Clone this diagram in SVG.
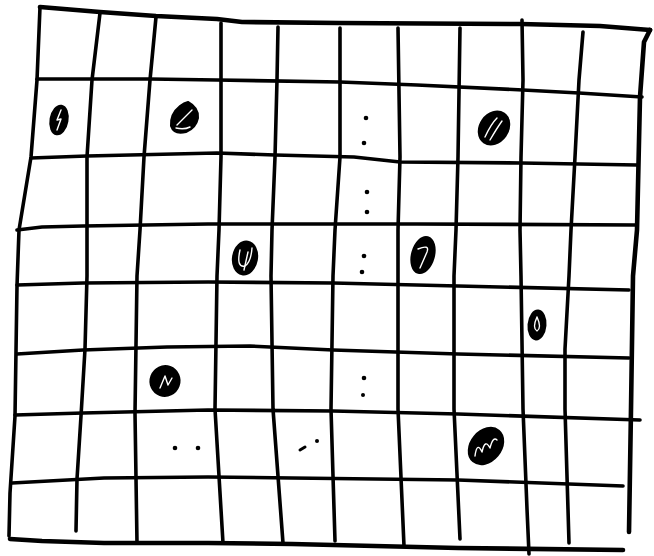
<svg xmlns="http://www.w3.org/2000/svg" width="654" height="556" viewBox="0 0 654 556">
<style>
.g{fill:none;stroke:#000;stroke-width:3.6;stroke-linecap:round;stroke-linejoin:round}
.b{fill:none;stroke:#000;stroke-width:4.6;stroke-linecap:round;stroke-linejoin:round}
.blob{fill:#000;stroke:#000;stroke-width:2}
.hl{fill:none;stroke:#fff;stroke-width:1.4;stroke-linecap:round;stroke-linejoin:round}
.d{fill:#000}
</style>
<rect width="654" height="556" fill="#fff"/>
<g id="grid">
<!-- borders -->
<path class="b" d="M40,7 L100,12 L156,16 L217,19 L242,22 L340,23 L521,24 L600,26 L650,30"/>
<path class="b" d="M650,30 L644,42 L640,97 L637,230 L633,276 L631,409 L629,532"/>
<path class="b" d="M10,539 L42,541 L104,543 L208,543 L292,544 L458,548 L623,550"/>
<path class="g" d="M40,7 L37,80 L31,157 L19,230 L17,286 L15,416 L10,493 L9,536"/>
<!-- horizontal lines -->
<path class="g" d="M37,79 L92,79 L150,79 L217,80 L340,82 L417,85 L523,90 L579,93 L642,97"/>
<path class="g" d="M31,158 L87,156 L217,153 L275,155 L354,157 L400,162 L521,163 L637,165"/>
<path class="g" d="M17,230 L42,227 L83,226 L208,224 L417,224 L637,225"/>
<path class="g" d="M17,285 L83,283 L208,282 L333,283 L458,286 L629,290"/>
<path class="g" d="M17,354 L83,350 L167,347 L250,346 L333,350 L458,354 L629,358"/>
<path class="g" d="M15,415 L83,413 L208,410 L333,411 L458,414 L640,420"/>
<path class="g" d="M12,483 L104,478 L208,477 L292,478 L458,480 L623,486"/>
<!-- vertical lines -->
<path class="g" d="M100,13 L92,80 L87,157 L87,230 L87,276 L85,349 L81,416 L77,479 L76,531"/>
<path class="g" d="M156,17 L150,80 L144,157 L140,230 L137,276 L135,413 L137,543"/>
<path class="g" d="M221,23 L221,157 L219,230 L217,276 L215,409 L223,543"/>
<path class="g" d="M278,27 L277,80 L275,157 L272,230 L271,276 L273,409 L283,543"/>
<path class="g" d="M340,28 L340,157 L335,230 L333,276 L331,409 L333,476 L335,541"/>
<path class="g" d="M398,28 L400,157 L398,230 L398,276 L398,409 L404,546"/>
<path class="g" d="M460,28 L458,157 L456,230 L454,276 L454,409 L460,539"/>
<path class="g" d="M522,20 L523,80 L521,157 L520,230 L521,276 L523,409 L527,509 L529,554"/>
<path class="g" d="M583,32 L579,80 L575,157 L571,230 L569,276 L565,349 L565,409 L569,543"/>
</g>
<g id="small-dots">
<circle class="d" cx="366" cy="118" r="2.3"/>
<circle class="d" cx="364" cy="143" r="2.3"/>
<circle class="d" cx="367" cy="192" r="2.3"/>
<circle class="d" cx="367" cy="212" r="2.3"/>
<circle class="d" cx="364" cy="256" r="2.3"/>
<circle class="d" cx="362" cy="272" r="2.3"/>
<circle class="d" cx="364" cy="378" r="2.3"/>
<circle class="d" cx="363" cy="395" r="2"/>
<circle class="d" cx="175" cy="448" r="2.3"/>
<circle class="d" cx="198" cy="448" r="2.3"/>
<path d="M300,450 L305,447" stroke="#000" stroke-width="3" stroke-linecap="round"/>
<circle class="d" cx="317" cy="441" r="2"/>
</g>
<g id="blob1">
<ellipse class="blob" cx="59" cy="120" rx="8.5" ry="14.5" transform="rotate(10 59 120)"/>
<path class="hl" d="M61,110 L57,120 L61,119 L57,130"/>
</g>
<g id="blob2">
<path class="blob" d="M188,102 Q199,108 198,118 Q196,128 186,132 Q174,135 171,126 Q170,114 180,106 Q184,103 188,102 Z"/>
<path class="hl" d="M177,125 L192,110"/>
<path class="hl" d="M176,128 Q184,130 190,127"/>
</g>
<g id="blob3">
<ellipse class="blob" cx="494" cy="128" rx="14" ry="17.5" transform="rotate(35 494 128)"/>
<path class="hl" d="M485,137 Q491,124 497,118"/>
<path class="hl" d="M490,140 Q497,128 502,121"/>
</g>
<g id="blob4">
<ellipse class="blob" cx="245" cy="258" rx="12" ry="16.5" transform="rotate(10 245 258)"/>
<path class="hl" d="M240,250 Q236,268 245,266 Q251,262 252,248"/>
<path class="hl" d="M248,252 L244,270"/>
</g>
<g id="blob5">
<ellipse class="blob" cx="423" cy="255" rx="11" ry="18.5" transform="rotate(15 423 255)"/>
<path class="hl" d="M418,249 Q430,244 427,252 L420,268"/>
</g>
<g id="blob6">
<ellipse class="blob" cx="537" cy="325" rx="8.5" ry="14.5" transform="rotate(5 537 325)"/>
<path class="hl" d="M537,317 Q532,328 537,331 Q542,328 537,317"/>
</g>
<g id="blob7">
<ellipse class="blob" cx="165" cy="381" rx="14.5" ry="15" transform="rotate(20 165 381)"/>
<path class="hl" d="M160,388 L165,376 L168,385 L172,378"/>
</g>
<g id="blob8">
<ellipse class="blob" cx="486" cy="446" rx="15" ry="20" transform="rotate(40 486 446)"/>
<path class="hl" d="M475,456 Q477,441 482,452 Q485,438 490,448 Q493,436 497,440"/>
</g>
</svg>
